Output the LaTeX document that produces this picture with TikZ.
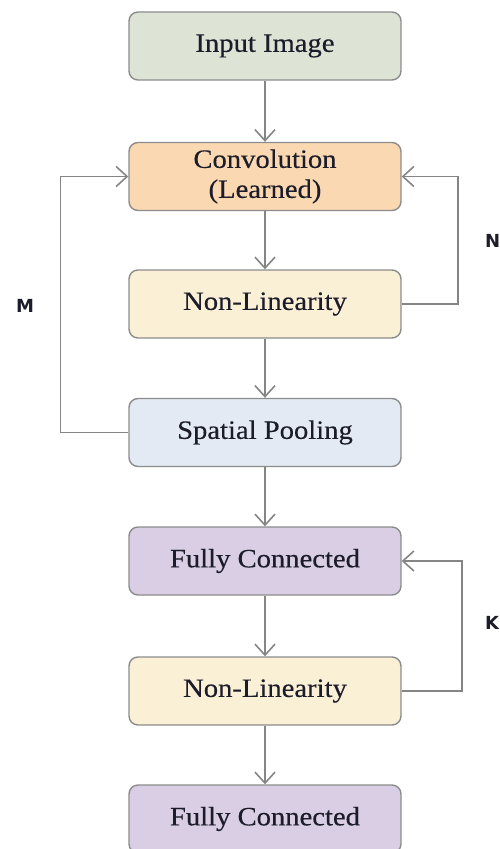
\documentclass[tikz,border=0pt]{standalone}
\usepackage{fontspec}
\setmainfont{Liberation Serif}[FakeStretch=1.08,FakeBold=0.3]
\newfontfamily\labelfont{DejaVu Sans}
\usetikzlibrary{arrows.meta}
\definecolor{edgegray}{HTML}{8C8C8C}
\definecolor{linegray}{HTML}{858585}
\definecolor{inkdark}{HTML}{1C1C2A}
\definecolor{fillinput}{HTML}{DDE3D5}
\definecolor{fillconv}{HTML}{FAD9B2}
\definecolor{fillnonlin}{HTML}{FAF0D6}
\definecolor{fillpool}{HTML}{E3EAF3}
\definecolor{fillfc}{HTML}{D9CEE4}
\tikzset{
  stage/.style={draw=edgegray, line width=1.4pt, rounded corners=9pt,
    minimum width=272pt, minimum height=68pt, inner sep=0pt,
    text=inkdark, align=center, font=\fontsize{26.5}{30}\selectfont},
  flow/.style={draw=linegray, line width=1.6pt,
    -{Straight Barb[length=11pt,width=20pt,line width=1.6pt]}},
  looplabel/.style={font=\labelfont\bfseries\fontsize{18}{20}\selectfont, text=inkdark, inner sep=0pt}
}
\begin{document}
\begin{tikzpicture}[x=1pt,y=-1pt]
  \useasboundingbox (0,0) rectangle (500,849);

  % stages of the network
  \node[stage, fill=fillinput]  (input) at (265,46)    {Input Image};
  \node[stage, fill=fillconv]   (conv)  at (265,176.5) {Convolution\\(Learned)};
  \node[stage, fill=fillnonlin] (nlA)   at (265,304)   {Non-Linearity};
  \node[stage, fill=fillpool]   (pool)  at (265,432.5) {Spatial Pooling};
  \node[stage, fill=fillfc]     (fcA)   at (265,561)   {Fully Connected};
  \node[stage, fill=fillnonlin] (nlB)   at (265,691)   {Non-Linearity};
  \node[stage, fill=fillfc]     (fcB)   at (265,819)   {Fully Connected};

  % forward path
  \draw[flow] (input) -- (conv);
  \draw[flow] (conv) -- (nlA);
  \draw[flow] (nlA) -- (pool);
  \draw[flow] (pool) -- (fcA);
  \draw[flow] (fcA) -- (nlB);
  \draw[flow] (nlB) -- (fcB);

  % repetition loops
  \draw[flow] (pool.west) -- ++(-68,0) |- (conv.west);
  \draw[flow] (nlA.east) -- ++(56,0) |- (conv.east);
  \draw[flow] (nlB.east) -- ++(60,0) |- (fcA.east);

  % loop counts
  \node[looplabel, anchor=west] (labM) at (16,306) {M};
  \node[looplabel, anchor=west] (labN) at (485,241) {N};
  \node[looplabel, anchor=west] (labK) at (485,623) {K};
\end{tikzpicture}
\end{document}
